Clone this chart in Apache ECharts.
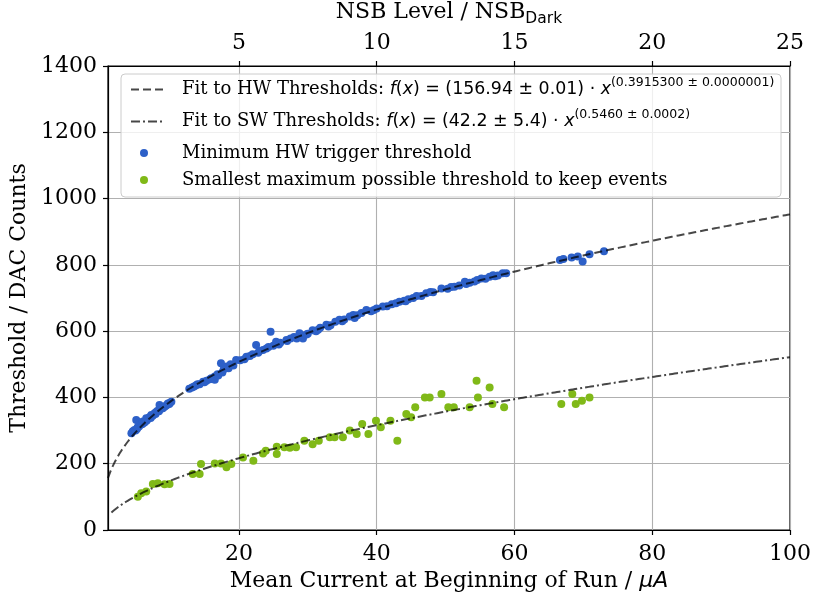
<!DOCTYPE html>
<html>
<head>
<meta charset="utf-8">
<script src="https://cdn.jsdelivr.net/npm/echarts@6/dist/echarts.min.js"></script>
<style>
  html, body { margin: 0; padding: 0; background: #fff; }
  #chart { width: 813px; height: 596px; }
</style>
</head>
<body>
<div id="chart"></div>
<script>
// Mean current (µA) vs. threshold (DAC counts), per run
const hwPoints = [
  [4.4,292],[4.6,298],[4.85,302],[5.0,300],[5.1,332],[5.2,305],[5.3,310],[5.5,312],
  [5.58,322],[5.8,318],[6.0,320],[6.06,327],[6.3,324],[6.55,337],[6.6,330],[6.8,335],
  [7.0,340],[7.2,338],[7.28,347],[7.5,345],[7.76,352],[7.9,350],[8.0,356],[8.2,360],
  [8.4,358],[8.48,377],[8.7,366],[8.96,367],[9.0,370],[9.2,372],[9.4,375],[9.6,378],
  [9.69,382],[9.9,380],[10.0,384],[10.2,387],
  [12.8,426],[13.2,430],[13.5,433],[13.8,437],[14.0,440],[14.3,440],[14.8,447],
  [15.0,446],[15.3,450],[15.8,455],[16.0,458],[16.5,463],[16.5,453],[16.9,470],
  [17.0,466],[17.4,503],[17.6,475],[17.8,485],[18.2,493],[18.5,488],[18.8,500],
  [19.2,496],[19.6,513],[20.2,512],[20.8,515],[21.1,523],[21.6,525],[22.0,530],
  [22.5,558],[22.8,535],[23.0,540],[23.5,543],[24.0,548],[24.3,552],[24.6,598],
  [25.0,556],[25.4,568],[25.8,560],[26.0,565],[26.9,573],[27.0,570],[27.5,578],
  [28.0,582],[28.4,578],[28.8,594],[28.8,583],[29.3,578],[29.8,590],[30.0,592],
  [30.7,603],[31.2,600],[31.5,604],[31.8,610],[32.7,619],[33.0,614],[33.3,618],
  [34.0,628],[34.6,634],[35.0,630],[35.3,635],[36.1,644],[36.6,649],[36.8,640],
  [37.2,648],[37.8,655],[38.5,664],[39.2,660],[39.6,664],[40.0,668],[40.9,674],
  [41.5,675],[42.2,681],[42.8,684],[43.3,689],[44.0,692],[44.2,690],[44.6,696],
  [45.3,700],[45.8,706],[46.5,706],[47.2,714],[47.8,718],[48.2,717],[49.4,729],
  [50.3,728],[50.8,733],[51.3,734],[52.0,738],[52.8,749],[53.0,742],[53.5,746],
  [54.2,750],[54.6,754],[55.2,759],[55.8,758],[56.4,764],[56.9,769],[57.2,766],
  [57.6,768],[58.3,775],[58.8,775],
  [66.6,815],[67.1,818],[68.3,822],[69.2,825],[69.9,810],[70.9,832],[73.0,841]
];
const swPoints = [
  [5.33,100],[5.82,111],[6.55,116],[7.51,139],[8.23,141],[9.21,138],[9.93,139],
  [13.3,169],[14.3,169],[14.5,199],[16.5,201],[17.4,201],[18.2,189],[18.9,199],
  [20.6,219],[22.1,209],[23.5,231],[23.9,239],[25.5,251],[25.5,229],[26.6,250],
  [27.4,248],[28.3,250],[29.5,269],[30.7,259],[31.6,269],[33.2,280],[33.9,280],
  [35.1,280],[36.1,300],[37.1,290],[37.9,320],[38.8,290],[39.9,330],[40.6,310],
  [42.0,330],[43.0,269],[44.3,350],[45.0,340],[45.6,370],[47.0,400],[47.7,400],
  [49.4,410],[50.4,370],[51.2,370],[53.5,370],[54.5,450],[54.7,400],[56.4,430],
  [56.8,380],[58.5,370],[66.8,380],[68.4,410],[68.9,380],[69.8,390],[70.9,400]
];

// Power-law fit parameters [amplitude, exponent] and the x span of each curve
const hwFitParams = [156.94, 0.3915300];
const swFitParams = [42.2, 0.5460];
const hwFitRange = [1, 100];
const swFitRange = [1.5, 100];

// Axis ranges and tick labels
const xRange = [1, 100];
const xTicks = [20, 40, 60, 80, 100];
const nsbTicks = [5, 10, 15, 20, 25];
const currentPerNsb = 4;  // µA per NSB_Dark unit
const yRange = [0, 1400];
const yStep = 200;

const seriesNames = [
  'Fit to HW Thresholds',
  'Fit to SW Thresholds',
  'Minimum HW trigger threshold',
  'Smallest maximum possible threshold to keep events'
];
const fitLabels = [
  ['(156.94 ± 0.01) · ', '(0.3915300 ± 0.0000001)'],
  ['(42.2 ± 5.4) · ', '(0.5460 ± 0.0002)']
];

function powerLaw(params, range, n) {
  const pts = [];
  for (let i = 0; i <= n; i++) {
    const x = range[0] + (range[1] - range[0]) * i / n;
    pts.push([x, params[0] * Math.pow(x, params[1])]);
  }
  return pts;
}

const SERIF = 'DejaVu Serif';
const SANS = 'DejaVu Sans';
const lineColor = 'rgba(0,0,0,0.72)';
const FS = 22;      // tick labels and axis titles
const LFS = 18;     // legend text
const MFS = 17.4;   // legend math

const legendRich = {
  s:   { fontFamily: SERIF, fontSize: LFS, color: '#000', lineHeight: 24, verticalAlign: 'middle' },
  it:  { fontFamily: SANS, fontStyle: 'italic', fontSize: MFS, color: '#000', lineHeight: 24, verticalAlign: 'middle' },
  m:   { fontFamily: SANS, fontSize: MFS, color: '#000', lineHeight: 24, verticalAlign: 'middle' },
  sup: { fontFamily: SANS, fontSize: 12.5, color: '#000', height: 10, lineHeight: 10, verticalAlign: 'top' },
  p:   { fontFamily: SERIF, fontSize: LFS, color: '#000', lineHeight: 24, verticalAlign: 'middle' }
};

function legendLabel(name) {
  const i = seriesNames.indexOf(name);
  if (i < 2) {
    return '{g| }{s|' + name + ': }{it|f}{m|(}{it|x}{m|) = ' + fitLabels[i][0] +
      '}{it|x}{sup|' + fitLabels[i][1] + '}';
  }
  return '{g| }{p|' + name + '}';
}

// One legend row per series so each row sits at its own height
const rowCenters = [88, 120, 156, 183];
const legends = seriesNames.map((name, i) => ({
  orient: 'vertical',
  left: i < 2 ? 130 : 140, top: rowCenters[i] - 12,
  padding: 0,
  itemWidth: 34, itemHeight: 8,
  z: 11,
  data: [i < 2 ? { name, itemStyle: { opacity: 0 } } : { name, icon: 'circle' }],
  formatter: legendLabel,
  textStyle: {
    fontFamily: SERIF, fontSize: LFS, color: '#000',
    rich: Object.assign({}, legendRich, { g: { width: i < 2 ? 12 : 16, fontSize: LFS, lineHeight: 24 } })
  }
}));

const chart = echarts.init(document.getElementById('chart'), null, { renderer: 'canvas' });

chart.setOption({
  animation: false,
  backgroundColor: '#fff',
  textStyle: { fontFamily: SERIF },
  grid: {
    left: 108, right: 23, top: 66, bottom: 66,
    outerBoundsMode: 'none', containLabel: false,
    show: true, borderColor: '#000', borderWidth: 1.2, backgroundColor: 'transparent'
  },
  graphic: [{
    type: 'rect', z: 10,
    shape: { x: 121, y: 74, width: 660, height: 123, r: 4 },
    style: { fill: 'rgba(255,255,255,0.8)', stroke: '#cccccc', lineWidth: 1 }
  }],
  legend: legends,
  xAxis: [
    {
      type: 'value', position: 'bottom',
      min: xRange[0], max: xRange[1],
      name: '{a|Mean Current at Beginning of Run / }{b|μA}',
      nameLocation: 'middle', nameGap: 38,
      nameTextStyle: {
        rich: {
          a: { fontFamily: SERIF, fontSize: FS, color: '#000' },
          b: { fontFamily: SANS, fontStyle: 'italic', fontSize: FS, color: '#000' }
        }
      },
      axisLine: { show: true, onZero: false, lineStyle: { color: '#000', width: 1.2 } },
      axisTick: { show: true, length: 5, customValues: xTicks, lineStyle: { color: '#000', width: 1.2 } },
      axisLabel: { customValues: xTicks, fontFamily: SERIF, fontSize: FS, color: '#000', margin: 13 },
      splitLine: { show: true, lineStyle: { color: '#b0b0b0', width: 1.1 } }
    },
    {
      type: 'value', position: 'top',
      min: xRange[0] / currentPerNsb, max: xRange[1] / currentPerNsb,
      name: '{a|NSB Level / NSB}{b|Dark}',
      nameLocation: 'middle', nameGap: 38,
      nameTextStyle: {
        rich: {
          a: { fontFamily: SERIF, fontSize: FS, color: '#000', height: 24, lineHeight: 26, verticalAlign: 'top' },
          b: { fontFamily: SANS, fontSize: 15.5, color: '#000', height: 14, lineHeight: 14, verticalAlign: 'bottom' }
        }
      },
      axisLine: { show: true, onZero: false, lineStyle: { color: '#000', width: 1.2 } },
      axisTick: { show: true, length: 5, customValues: nsbTicks, lineStyle: { color: '#000', width: 1.2 } },
      axisLabel: { customValues: nsbTicks, fontFamily: SERIF, fontSize: FS, color: '#000', margin: 12 },
      splitLine: { show: false }
    }
  ],
  yAxis: {
    type: 'value', min: yRange[0], max: yRange[1], interval: yStep,
    name: 'Threshold / DAC Counts',
    nameLocation: 'middle', nameGap: 61, nameRotate: 90,
    nameTextStyle: { fontFamily: SERIF, fontSize: FS, color: '#000' },
    axisLine: { show: true, lineStyle: { color: '#000', width: 1.2 } },
    axisTick: { show: true, length: 5, lineStyle: { color: '#000', width: 1.2 } },
    axisLabel: { fontFamily: SERIF, fontSize: FS, color: '#000', margin: 11, formatter: v => String(v) },
    splitLine: { show: true, lineStyle: { color: '#b0b0b0', width: 1.1 } }
  },
  series: [
    {
      name: seriesNames[2], type: 'scatter', xAxisIndex: 0,
      data: hwPoints, symbol: 'circle', symbolSize: 8,
      itemStyle: { color: '#2d60c8', opacity: 1 }, z: 2
    },
    {
      name: seriesNames[3], type: 'scatter', xAxisIndex: 0,
      data: swPoints, symbol: 'circle', symbolSize: 8,
      itemStyle: { color: '#80b918', opacity: 1 }, z: 2
    },
    {
      name: seriesNames[0], type: 'line', xAxisIndex: 0,
      data: powerLaw(hwFitParams, hwFitRange, 300),
      showSymbol: false, symbol: 'none', smooth: false, clip: true,
      lineStyle: { color: lineColor, width: 2, type: [8, 4] },
      itemStyle: { color: lineColor }, z: 3
    },
    {
      name: seriesNames[1], type: 'line', xAxisIndex: 0,
      data: powerLaw(swFitParams, swFitRange, 300),
      showSymbol: false, symbol: 'none', smooth: false, clip: true,
      lineStyle: { color: lineColor, width: 2, type: [9, 3, 2, 3] },
      itemStyle: { color: lineColor }, z: 3
    }
  ]
});
</script>
</body>
</html>
